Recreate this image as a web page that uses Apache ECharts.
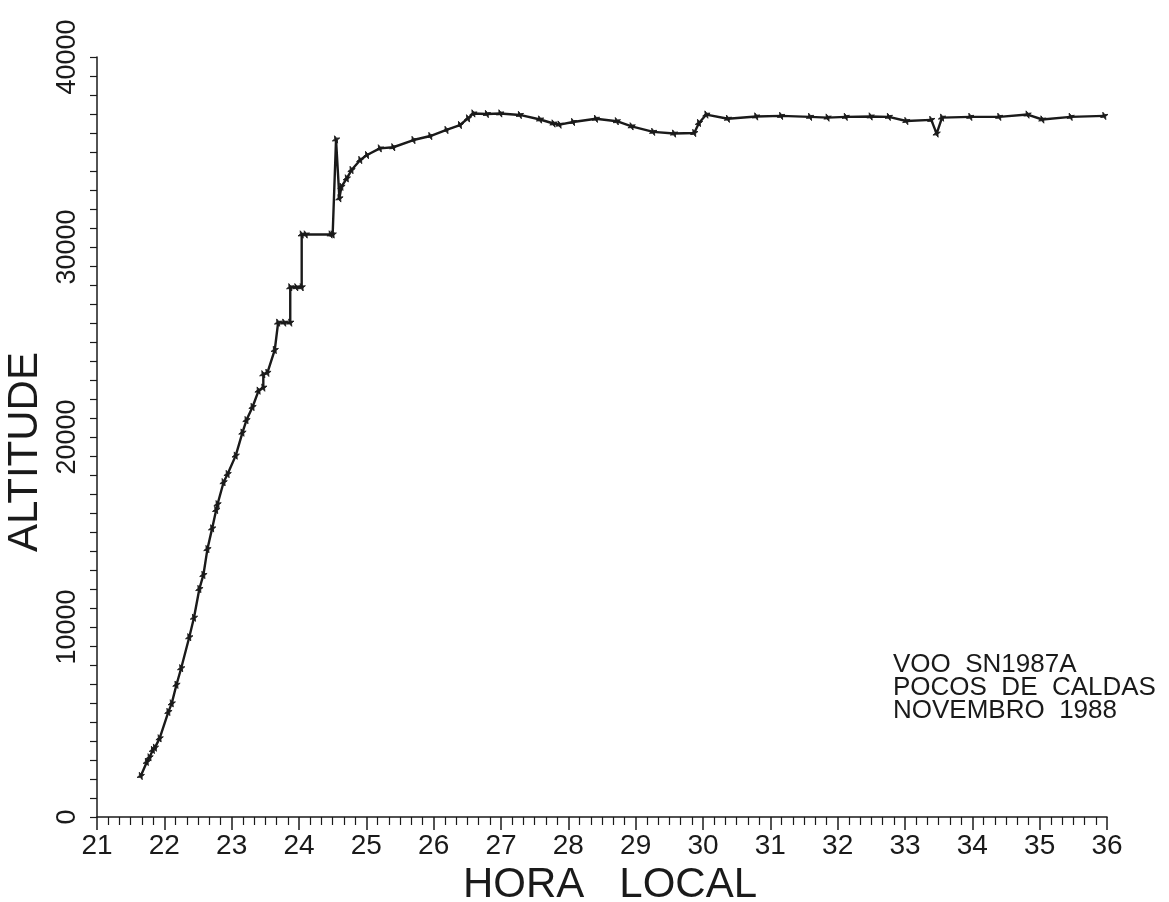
<!DOCTYPE html>
<html>
<head>
<meta charset="utf-8">
<script src="https://cdn.jsdelivr.net/npm/echarts@6/dist/echarts.min.js"></script>
<style>
html,body{margin:0;padding:0;background:#fff;}
#chart{width:1169px;height:902px;}
</style>
</head>
<body>
<div id="chart"></div>
<script>
// Local time (hours, >24 = next day) and altitude (ft)
const hours = [
  21.65, 21.74, 21.78, 21.83, 21.86, 21.93, 22.06, 22.11, 22.18, 22.25,
  22.37, 22.44, 22.52, 22.58, 22.64, 22.71, 22.77, 22.79, 22.88, 22.94,
  23.06, 23.16, 23.22, 23.31, 23.40, 23.47, 23.47, 23.53, 23.64, 23.69,
  23.78, 23.87, 23.87, 23.96, 24.04, 24.04, 24.10, 24.47, 24.50, 24.55,
  24.60, 24.63, 24.71, 24.78, 24.91, 25.01, 25.20, 25.40, 25.70, 25.95,
  26.19, 26.39, 26.51, 26.59, 26.79, 26.99, 27.28, 27.58, 27.78, 27.87,
  28.07, 28.41, 28.72, 28.94, 29.26, 29.57, 29.87, 29.94, 30.05, 30.37,
  30.79, 31.16, 31.59, 31.85, 32.12, 32.49, 32.76, 33.02, 33.39, 33.47,
  33.55, 33.97, 34.40, 34.82, 35.04, 35.46, 35.96
];
const altitude = [
  2160, 2900, 3140, 3530, 3650, 4140, 5530, 5980, 6960, 7830,
  9460, 10490, 12000, 12740, 14100, 15190, 16160, 16460, 17620, 18050,
  19020, 20230, 20890, 21580, 22440, 22600, 23300, 23380, 24580, 26020,
  26020, 26020, 27880, 27880, 27880, 30660, 30660, 30660, 30660, 35660,
  32560, 33170, 33610, 34050, 34580, 34840, 35190, 35250, 35630, 35840,
  36160, 36420, 36770, 37030, 37000, 37030, 36950, 36710, 36500, 36440,
  36580, 36750, 36620, 36350, 36060, 35970, 36000, 36530, 36970, 36750,
  36870, 36900, 36850, 36810, 36850, 36870, 36850, 36630, 36690, 35970,
  36810, 36850, 36850, 36970, 36710, 36850, 36900
];
const xTicks = [21, 22, 23, 24, 25, 26, 27, 28, 29, 30, 31, 32, 33, 34, 35, 36];
const yTicks = [0, 10000, 20000, 30000, 40000];
const noteLines = ['VOO  SN1987A', 'POCOS  DE  CALDAS', 'NOVEMBRO  1988'];
const xTitle = 'HORA   LOCAL';
const yTitle = 'ALTITUDE';

const FONT = "'Liberation Sans', 'DejaVu Sans', sans-serif";
const INK = '#1a1a1a';
const pts = hours.map((h, i) => [h, altitude[i]]);

const chart = echarts.init(document.getElementById('chart'));
chart.setOption({
  backgroundColor: '#ffffff',
  animation: false,
  grid: { left: 97, right: 62, top: 57, bottom: 85, containLabel: false, outerBoundsMode: 'none' },
  xAxis: {
    type: 'value',
    min: xTicks[0], max: xTicks[xTicks.length - 1], interval: 1,
    name: xTitle, nameLocation: 'middle', nameGap: 47,
    nameTextStyle: { fontFamily: FONT, fontSize: 42, color: INK, padding: [0, 0, 0, 16] },
    axisLine: { show: true, onZero: false, lineStyle: { color: INK, width: 1.5 } },
    axisTick: { show: true, inside: false, length: 13, lineStyle: { color: INK, width: 1.5 } },
    minorTick: { show: true, splitNumber: 6, length: 8, lineStyle: { color: INK, width: 1.2 } },
    axisLabel: { fontFamily: FONT, fontSize: 28, color: INK, margin: 15, formatter: v => String(v) },
    splitLine: { show: false }
  },
  yAxis: {
    type: 'value',
    min: yTicks[0], max: yTicks[yTicks.length - 1], interval: 10000,
    name: yTitle, nameLocation: 'middle', nameGap: 46,
    nameTextStyle: { fontFamily: FONT, fontSize: 42, color: INK, padding: [0, 30, 0, 0] },
    axisLine: { show: true, onZero: false, lineStyle: { color: INK, width: 1.5 } },
    axisTick: { show: true, inside: false, length: 7, lineStyle: { color: INK, width: 1.2 } },
    minorTick: { show: true, splitNumber: 10, length: 7, lineStyle: { color: INK, width: 1.2 } },
    axisLabel: { fontFamily: FONT, fontSize: 27, color: INK, rotate: 90, margin: 16, formatter: v => String(v) },
    splitLine: { show: false }
  },
  series: [{
    type: 'line',
    data: pts,
    showSymbol: true,
    symbol: 'path://M0,-6L1.5,-1.5L6,0L1.5,1.5L0,6L-1.5,1.5L-6,0L-1.5,-1.5Z',
    symbolSize: 8,
    symbolRotate: 22,
    itemStyle: { color: INK, borderColor: INK, borderWidth: 0.8 },
    lineStyle: { color: INK, width: 2.4 },
    z: 3
  }],
  graphic: [{
    type: 'text',
    left: 893,
    top: 652,
    style: {
      text: noteLines.join('\n'),
      fontFamily: FONT,
      fontSize: 26,
      lineHeight: 23,
      fill: INK
    }
  }]
});
</script>
</body>
</html>
